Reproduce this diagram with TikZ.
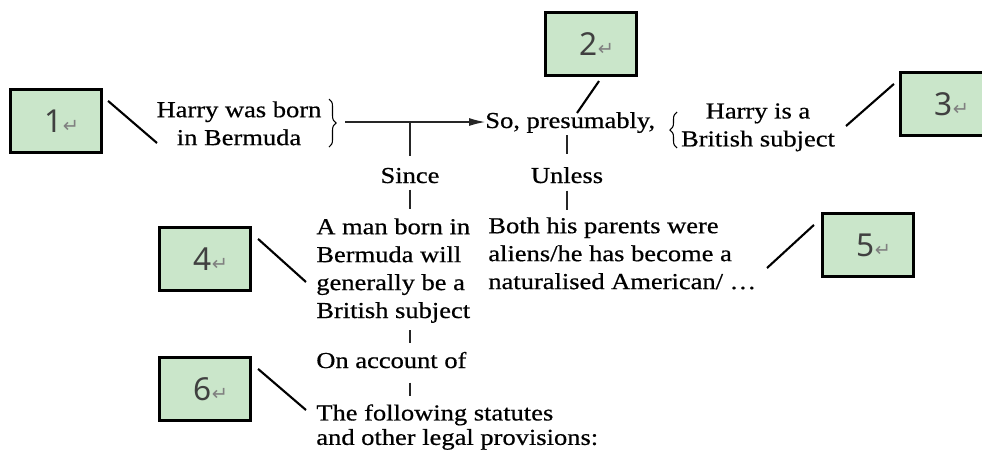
\documentclass[tikz,border=0pt]{standalone}
\usepackage{fontspec}
\setmainfont{Liberation Serif}[FakeStretch=1.16,FakeBold=0.6]
\newfontfamily\tagfont{Noto Sans}
\newfontfamily\retfont{DejaVu Sans}
\usetikzlibrary{arrows.meta,decorations.pathreplacing}
\definecolor{tagfill}{RGB}{202,230,202}
\newcommand{\retsym}{{\retfont\fontsize{11}{11}\selectfont\color{black!50}↵}}
\begin{document}
\begin{tikzpicture}[x=0.02cm,y=-0.02cm,
        txt/.style={inner sep=0pt,font=\fontsize{13}{15.9}\selectfont},
        tag/.style={draw,line width=1.8pt,fill=tagfill,minimum width=1.82cm,minimum height=1.26cm,inner sep=0pt,
            font=\tagfont\fontsize{18}{18}\selectfont,text=black!75},
        lead/.style={line width=1.2pt},
        link/.style={line width=0.6pt,color=black!85},
        brc/.style={decorate,decoration={brace,amplitude=4pt},line width=0.6pt}]
        \useasboundingbox (0,0) rectangle (982,454);
        \clip (0,0) rectangle (982,454);
        \node[txt,align=center,anchor=north] (born) at (239,101) {Harry was born\\in Bermuda};
        \node[txt,anchor=base west] (presum) at (485,128) {So, presumably,};
        \node[txt,align=center,anchor=north] (subject) at (758,103) {Harry is a\\British subject};
        \node[txt,anchor=base] (since) at (410,183) {Since};
        \node[txt,anchor=base] (unless) at (567,183) {Unless};
        \node[txt,align=left,anchor=north west] (rule) at (316,218) {A man born in\\Bermuda will\\generally be a\\British subject};
        \node[txt,align=left,anchor=north west] (excep) at (488,217) {Both his parents were\\aliens/he has become a\\naturalised American/ …};
        \node[txt,anchor=base west] (account) at (316,368) {On account of};
        \node[txt,align=left,anchor=north west,font=\fontsize{13}{13.9}\selectfont] (statute) at (316,404)
        {The following statutes\\and other legal provisions:};
        \draw[brc] (329,99) -- (329,147);
        \draw[brc] (677,148) -- (677,112);
        \coordinate (from) at (345,122);
        \draw[link,-{Latex[length=9pt,width=4.5pt]}] (from) -- (from -| presum.west);
        \draw[link,shorten <=0.24cm] (since.north) -- (since.north |- from);
        \draw[link,shorten <=0.12cm,shorten >=0.18cm] (since.south) -- (since.south |- rule.north);
        \draw[link,shorten <=0.04cm,shorten >=0.26cm] (unless.north |- presum.south) -- (unless.north);
        \draw[link,shorten <=0.14cm,shorten >=0.14cm] (unless.south) -- (unless.south |- excep.north);
        \draw[link,shorten <=0.14cm,shorten >=0.18cm] (since |- rule.south) -- (since |- account.north);
        \draw[link,shorten <=0.28cm,shorten >=0.16cm] (since |- account.south) -- (since |- statute.north);
        \node[tag] (t1) at (56,121) {\hspace*{0.24cm}1\retsym};
        \node[tag] (t2) at (591,44) {\hspace*{0.24cm}2\retsym};
        \node[tag] (t3) at (946,104) {\hspace*{0.24cm}3\retsym};
        \node[tag] (t4) at (205,259) {\hspace*{0.24cm}4\retsym};
        \node[tag] (t5) at (868,245) {\hspace*{0.24cm}5\retsym};
        \node[tag] (t6) at (205,389) {\hspace*{0.24cm}6\retsym};
        \coordinate (e1) at (157,143);
        \coordinate (e2) at (577,113);
        \coordinate (e3) at (846,126);
        \coordinate (e4) at (306,282);
        \coordinate (e5) at (767,268);
        \coordinate (e6) at (306,410);
        \draw[lead] ([shift={(5,13)}]t1.north east) -- (e1);
        \draw[lead] ([shift={(8,4)}]t2.south) -- (e2);
        \draw[lead] ([shift={(-5,13)}]t3.north west) -- (e3);
        \draw[lead] ([shift={(6,13)}]t4.north east) -- (e4);
        \draw[lead] ([shift={(-7,13)}]t5.north west) -- (e5);
        \draw[lead] ([shift={(6,13)}]t6.north east) -- (e6);
\end{tikzpicture}
\end{document}
